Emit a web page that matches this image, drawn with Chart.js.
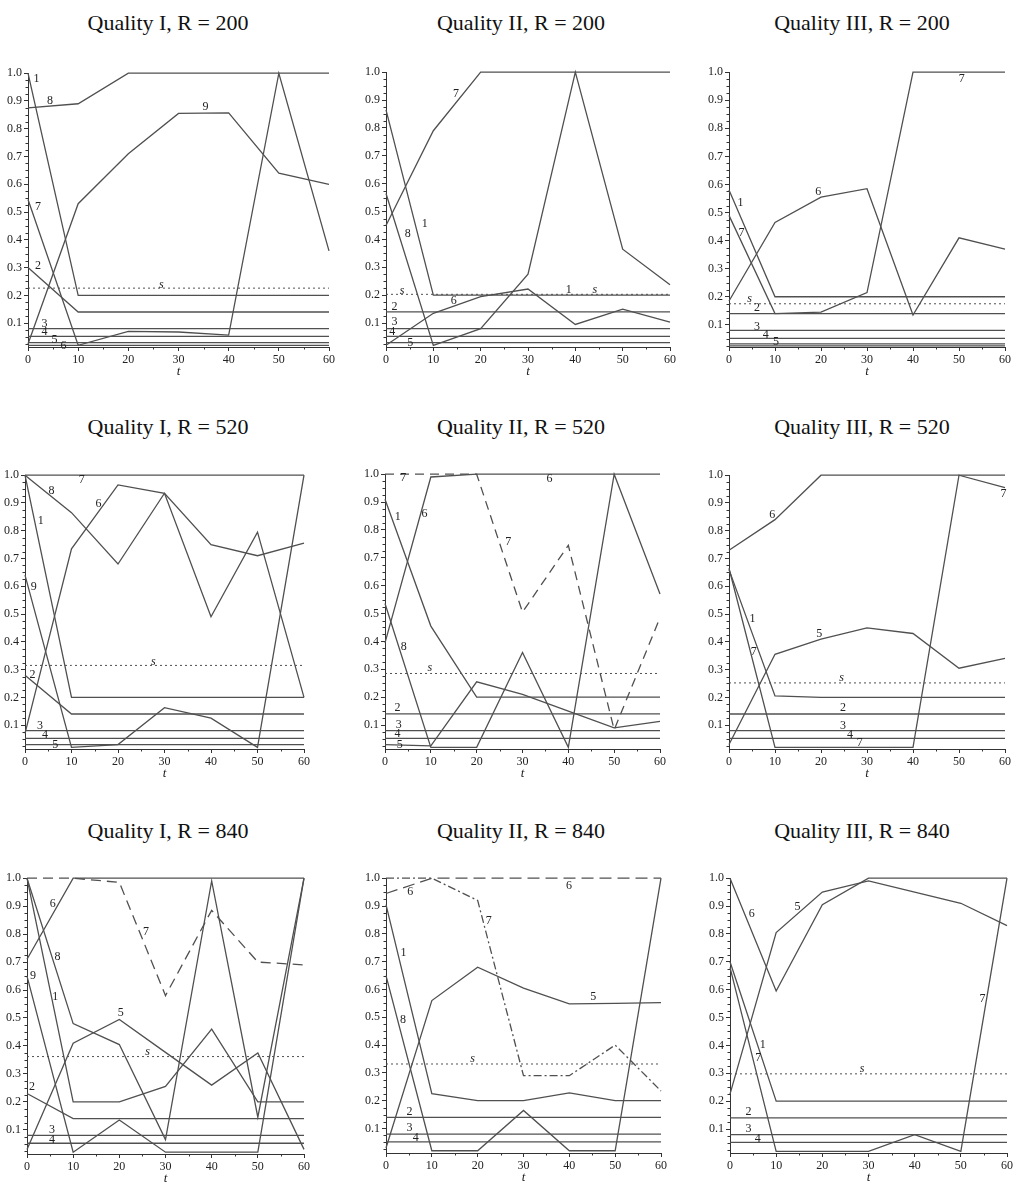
<!DOCTYPE html>
<html><head><meta charset="utf-8">
<script src="https://cdn.jsdelivr.net/npm/chart.js@4.4.1/dist/chart.umd.min.js"></script>
<style>
html,body{margin:0;padding:0;background:#fff;}
body{width:1024px;height:1187px;position:relative;overflow:hidden;font-family:"Liberation Serif","Times New Roman",serif;}
.ttl{position:absolute;font-size:22px;line-height:22px;white-space:nowrap;color:#111;transform:translateX(-50%);}
.pan{position:absolute;}
</style></head><body>
<script>
// ---------- DATA ----------
const T = [0, 10, 20, 30, 40, 50, 60];
const X_TICKS = [0, 10, 20, 30, 40, 50, 60];
const Y_TICKS = [0.1, 0.2, 0.3, 0.4, 0.5, 0.6, 0.7, 0.8, 0.9, 1.0];

// Quality I, R = 200
const I200_1 = [1.0, 0.2, 0.2, 0.2, 0.2, 0.2, 0.2];
const I200_2 = [0.30, 0.14, 0.14, 0.14, 0.14, 0.14, 0.14];
const I200_3 = [0.08, 0.08, 0.08, 0.08, 0.08, 0.08, 0.08];
const I200_4 = [0.052, 0.052, 0.052, 0.052, 0.052, 0.052, 0.052];
const I200_5 = [0.03, 0.03, 0.03, 0.03, 0.03, 0.03, 0.03];
const I200_6 = [0.02, 0.02, 0.02, 0.02, 0.02, 0.02, 0.02];
const I200_7 = [0.545, 0.02, 0.07, 0.068, 0.057, 1.0, 0.36];
const I200_8 = [0.875, 0.89, 1.0, 1.0, 1.0, 1.0, 1.0];
const I200_9 = [0.025, 0.53, 0.71, 0.855, 0.857, 0.64, 0.60];
const I200_s = [0.226, 0.226, 0.226, 0.226, 0.226, 0.226, 0.226];

// Quality II, R = 200
const II200_1 = [0.865, 0.2, 0.2, 0.2, 0.2, 0.2, 0.2];
const II200_2 = [0.14, 0.14, 0.14, 0.14, 0.14, 0.14, 0.14];
const II200_3 = [0.08, 0.08, 0.08, 0.08, 0.08, 0.08, 0.08];
const II200_4 = [0.052, 0.052, 0.052, 0.052, 0.052, 0.052, 0.052];
const II200_5 = [0.03, 0.03, 0.03, 0.03, 0.03, 0.03, 0.03];
const II200_6 = [0.02, 0.135, 0.195, 0.222, 0.095, 0.15, 0.103];
const II200_7 = [0.45, 0.79, 1.0, 1.0, 1.0, 1.0, 1.0];
const II200_8 = [0.565, 0.02, 0.08, 0.275, 1.0, 0.365, 0.237];
const II200_s = [0.203, 0.203, 0.203, 0.203, 0.203, 0.203, 0.203];

// Quality III, R = 200
const III200_1 = [0.58, 0.2, 0.2, 0.2, 0.2, 0.2, 0.2];
const III200_2 = [0.14, 0.14, 0.14, 0.14, 0.14, 0.14, 0.14];
const III200_3 = [0.08, 0.08, 0.08, 0.08, 0.08, 0.08, 0.08];
const III200_4 = [0.052, 0.052, 0.052, 0.052, 0.052, 0.052, 0.052];
const III200_5 = [0.032, 0.032, 0.032, 0.032, 0.032, 0.032, 0.032];
const III200_0 = [0.025, 0.025, 0.025, 0.025, 0.025, 0.025, 0.025];
const III200_6 = [0.185, 0.465, 0.555, 0.585, 0.135, 0.41, 0.37];
const III200_7 = [0.49, 0.14, 0.145, 0.215, 1.0, 1.0, 1.0];
const III200_s = [0.175, 0.175, 0.175, 0.175, 0.175, 0.175, 0.175];

// Quality I, R = 520
const I520_1 = [1.0, 0.2, 0.2, 0.2, 0.2, 0.2, 0.2];
const I520_2 = [0.28, 0.14, 0.14, 0.14, 0.14, 0.14, 0.14];
const I520_3 = [0.08, 0.08, 0.08, 0.08, 0.08, 0.08, 0.08];
const I520_4 = [0.052, 0.052, 0.052, 0.052, 0.052, 0.052, 0.052];
const I520_5 = [0.03, 0.03, 0.03, 0.03, 0.03, 0.03, 0.03];
const I520_6 = [0.07, 0.735, 0.965, 0.935, 0.49, 0.795, 0.2];
const I520_7 = [1.0, 1.0, 1.0, 1.0, 1.0, 1.0, 1.0];
const I520_8 = [1.0, 0.865, 0.68, 0.935, 0.75, 0.71, 0.755];
const I520_9 = [0.64, 0.02, 0.03, 0.163, 0.125, 0.02, 1.0];
const I520_s = [0.315, 0.315, 0.315, 0.315, 0.315, 0.315, 0.315];

// Quality II, R = 520
const II520_1 = [0.91, 0.455, 0.2, 0.2, 0.2, 0.2, 0.2];
const II520_2 = [0.14, 0.14, 0.14, 0.14, 0.14, 0.14, 0.14];
const II520_3 = [0.08, 0.08, 0.08, 0.08, 0.08, 0.08, 0.08];
const II520_4 = [0.052, 0.052, 0.052, 0.052, 0.052, 0.052, 0.052];
const II520_5 = [0.03, 0.025, 0.255, 0.21, 0.15, 0.09, 0.113];
const II520_6 = [0.395, 0.99, 1.0, 1.0, 1.0, 1.0, 1.0];
const II520_7 = [1.0, 1.0, 1.0, 0.505, 0.745, 0.083, 0.485];
const II520_8 = [0.536, 0.02, 0.02, 0.36, 0.02, 1.0, 0.57];
const II520_s = [0.285, 0.285, 0.285, 0.285, 0.285, 0.285, 0.285];

// Quality III, R = 520
const III520_1 = [0.66, 0.205, 0.2, 0.2, 0.2, 0.2, 0.2];
const III520_2 = [0.14, 0.14, 0.14, 0.14, 0.14, 0.14, 0.14];
const III520_3 = [0.08, 0.08, 0.08, 0.08, 0.08, 0.08, 0.08];
const III520_4 = [0.052, 0.052, 0.052, 0.052, 0.052, 0.052, 0.052];
const III520_5 = [0.03, 0.355, 0.41, 0.45, 0.43, 0.305, 0.34];
const III520_6 = [0.73, 0.84, 1.0, 1.0, 1.0, 1.0, 1.0];
const III520_7 = [0.665, 0.02, 0.02, 0.02, 0.02, 1.0, 0.955];
const III520_s = [0.252, 0.252, 0.252, 0.252, 0.252, 0.252, 0.252];

// Quality I, R = 840
const I840_1 = [1.0, 0.2, 0.2, 0.255, 0.46, 0.2, 0.2];
const I840_2 = [0.23, 0.14, 0.14, 0.14, 0.14, 0.14, 0.14];
const I840_3 = [0.08, 0.08, 0.08, 0.08, 0.08, 0.08, 0.08];
const I840_4 = [0.052, 0.052, 0.052, 0.052, 0.052, 0.052, 0.052];
const I840_5 = [0.03, 0.41, 0.495, 0.377, 0.26, 0.375, 0.03];
const I840_6 = [0.71, 1.0, 1.0, 1.0, 1.0, 1.0, 1.0];
const I840_7 = [1.0, 1.0, 0.985, 0.58, 0.885, 0.70, 0.69];
const I840_8 = [1.0, 0.48, 0.405, 0.065, 0.99, 0.145, 1.0];
const I840_9 = [0.65, 0.02, 0.135, 0.02, 0.02, 0.02, 1.0];
const I840_s = [0.362, 0.362, 0.362, 0.362, 0.362, 0.362, 0.362];

// Quality II, R = 840
const II840_1 = [0.905, 0.225, 0.2, 0.2, 0.228, 0.2, 0.2];
const II840_2 = [0.14, 0.14, 0.14, 0.14, 0.14, 0.14, 0.14];
const II840_3 = [0.08, 0.08, 0.08, 0.08, 0.08, 0.08, 0.08];
const II840_4 = [0.052, 0.052, 0.052, 0.052, 0.052, 0.052, 0.052];
const II840_5 = [0.03, 0.56, 0.68, 0.605, 0.548, 0.55, 0.553];
const II840_6 = [0.945, 1.0, 1.0, 1.0, 1.0, 1.0, 1.0];
const II840_7 = [1.0, 1.0, 0.92, 0.29, 0.29, 0.4, 0.235];
const II840_8 = [0.65, 0.02, 0.02, 0.165, 0.02, 0.02, 1.0];
const II840_s = [0.332, 0.332, 0.332, 0.332, 0.332, 0.332, 0.332];

// Quality III, R = 840
const III840_1 = [0.70, 0.2, 0.2, 0.2, 0.2, 0.2, 0.2];
const III840_2 = [0.14, 0.14, 0.14, 0.14, 0.14, 0.14, 0.14];
const III840_3 = [0.08, 0.08, 0.08, 0.08, 0.08, 0.08, 0.08];
const III840_4 = [0.052, 0.052, 0.052, 0.052, 0.052, 0.052, 0.052];
const III840_5 = [0.225, 0.805, 0.95, 0.99, 0.95, 0.91, 0.83];
const III840_6 = [1.0, 0.595, 0.905, 1.0, 1.0, 1.0, 1.0];
const III840_7 = [0.68, 0.02, 0.02, 0.02, 0.08, 0.02, 1.0];
const III840_s = [0.298, 0.298, 0.298, 0.298, 0.298, 0.298, 0.298];

// ---------- CURVE LABELS (data coordinates: t, value, text) ----------
const LBL_I200 = [[1.7,0.978,'1'],[4.4,0.9,'8'],[35.4,0.879,'9'],[2.0,0.52,'7'],[2.0,0.305,'2'],[26.6,0.239,'s'],[3.3,0.097,'3'],[3.3,0.067,'4'],[5.3,0.040,'5'],[7.1,0.017,'6']];
const LBL_II200 = [[14.8,0.921,'7'],[8.2,0.455,'1'],[4.6,0.419,'8'],[3.4,0.217,'s'],[38.6,0.219,'1'],[44.1,0.219,'s'],[14.3,0.181,'6'],[1.8,0.157,'2'],[1.8,0.104,'3'],[1.3,0.068,'4'],[5.1,0.029,'5']];
const LBL_III200 = [[50.6,0.978,'7'],[19.4,0.575,'6'],[2.5,0.534,'1'],[2.7,0.427,'7'],[4.5,0.191,'s'],[6.1,0.159,'2'],[6.1,0.094,'3'],[8.0,0.065,'4'],[10.2,0.038,'5']];
const LBL_I520 = [[12.2,0.982,'7'],[5.7,0.945,'8'],[15.8,0.897,'6'],[3.4,0.835,'1'],[1.9,0.597,'9'],[27.6,0.328,'s'],[1.6,0.28,'2'],[3.2,0.098,'3'],[4.3,0.064,'4'],[6.5,0.03,'5']];
const LBL_II520 = [[4.0,0.986,'7'],[35.9,0.982,'6'],[2.8,0.848,'1'],[8.6,0.857,'6'],[26.9,0.756,'7'],[4.1,0.382,'8'],[9.8,0.305,'s'],[2.7,0.162,'2'],[3.0,0.1,'3'],[2.7,0.067,'4'],[3.2,0.029,'5']];
const LBL_III520 = [[9.4,0.859,'6'],[59.7,0.933,'7'],[5.1,0.483,'1'],[5.4,0.364,'7'],[19.6,0.43,'5'],[24.5,0.272,'s'],[24.8,0.161,'2'],[24.8,0.099,'3'],[26.3,0.066,'4'],[28.4,0.036,'7']];
const LBL_I840 = [[5.6,0.909,'6'],[25.8,0.807,'7'],[6.6,0.719,'8'],[1.3,0.65,'9'],[6.1,0.576,'1'],[20.3,0.52,'5'],[26.1,0.378,'s'],[1.1,0.254,'2'],[5.4,0.1,'3'],[5.4,0.064,'4']];
const LBL_II840 = [[5.3,0.951,'6'],[39.9,0.973,'6'],[22.4,0.847,'7'],[3.8,0.731,'1'],[3.7,0.489,'8'],[45.2,0.573,'5'],[18.9,0.35,'s'],[5.1,0.161,'2'],[5.1,0.101,'3'],[6.5,0.068,'4']];
const LBL_III840 = [[4.7,0.871,'6'],[14.6,0.899,'5'],[7.1,0.401,'1'],[6.1,0.356,'7'],[54.7,0.568,'7'],[28.6,0.316,'s'],[4.0,0.161,'2'],[4.0,0.101,'3'],[6.0,0.066,'4']];

// ---------- PANELS (built from the arrays above) ----------
const PANELS = [
  {title:'Quality I, R = 200', series:[I200_1,I200_2,I200_3,I200_4,I200_5,I200_6,I200_7,I200_8,I200_9], s:I200_s, labels:LBL_I200, dash:{}},
  {title:'Quality II, R = 200', series:[II200_1,II200_2,II200_3,II200_4,II200_5,II200_6,II200_7,II200_8], s:II200_s, labels:LBL_II200, dash:{}},
  {title:'Quality III, R = 200', series:[III200_1,III200_2,III200_3,III200_4,III200_5,III200_0,III200_6,III200_7], s:III200_s, labels:LBL_III200, dash:{}},
  {title:'Quality I, R = 520', series:[I520_1,I520_2,I520_3,I520_4,I520_5,I520_6,I520_7,I520_8,I520_9], s:I520_s, labels:LBL_I520, dash:{}},
  {title:'Quality II, R = 520', series:[II520_1,II520_2,II520_3,II520_4,II520_5,II520_6,II520_7,II520_8], s:II520_s, labels:LBL_II520, dash:{6:[9,6]}},
  {title:'Quality III, R = 520', series:[III520_1,III520_2,III520_3,III520_4,III520_5,III520_6,III520_7], s:III520_s, labels:LBL_III520, dash:{}},
  {title:'Quality I, R = 840', series:[I840_1,I840_2,I840_3,I840_4,I840_5,I840_6,I840_7,I840_8,I840_9], s:I840_s, labels:LBL_I840, dash:{6:[10,6]}},
  {title:'Quality II, R = 840', series:[II840_1,II840_2,II840_3,II840_4,II840_5,II840_6,II840_7,II840_8], s:II840_s, labels:LBL_II840, dash:{5:[12,6],6:[8,3,2,3]}},
  {title:'Quality III, R = 840', series:[III840_1,III840_2,III840_3,III840_4,III840_5,III840_6,III840_7], s:III840_s, labels:LBL_III840, dash:{}}
];

// ---------- LAYOUT (page pixels of each plot area: left, right, top, bottom, y-min) ----------
const GEOM = [
  [28, 329, 72, 347, 0.014],
  [386, 670, 71, 347, 0.014],
  [729, 1005, 71, 347, 0.021],
  [25, 304, 474, 749, 0.014],
  [385, 660, 473, 749, 0.014],
  [729, 1005, 474, 749, 0.014],
  [27, 304, 877, 1154, 0.0135],
  [386, 661, 877, 1153, 0.012],
  [730, 1007, 877, 1153, 0.014]
];
const TITLE_X = [168, 521, 862];
const TITLE_TOP = [12, 416, 820];
const YW = 32, PT = 8, PR = 12, XH = 32;
const LINE = '#505050', AXIS = '#333', TXT = '#222';

const labelPlugin = {
  id: 'curveLabels',
  afterDatasetsDraw(chart, args, opts) {
    const ctx = chart.ctx, xs = chart.scales.x, ys = chart.scales.y;
    ctx.save();
    ctx.fillStyle = TXT;
    ctx.textAlign = 'center';
    ctx.textBaseline = 'middle';
    (opts.items || []).forEach(([t, v, txt]) => {
      ctx.font = (txt === 's' ? 'italic ' : '') + '12px "Liberation Serif", serif';
      ctx.fillText(txt, xs.getPixelForValue(t), ys.getPixelForValue(v));
    });
    ctx.restore();
  }
};
const minorTicks = {
  id: 'minorTicks',
  afterDraw(chart) {
    const ctx = chart.ctx, xs = chart.scales.x, ys = chart.scales.y, a = chart.chartArea;
    ctx.save();
    ctx.strokeStyle = AXIS; ctx.lineWidth = 1;
    ctx.beginPath();
    for (let k = 1; k < 40; k++) {
      if (k % 4 === 0) continue;
      const v = k * 0.025;
      if (v < ys.min) continue;
      const py = Math.round(ys.getPixelForValue(v)) + 0.5;
      ctx.moveTo(a.left - 2.5, py); ctx.lineTo(a.left, py);
    }
    for (let v = 5; v < 60; v += 10) {
      const px = Math.round(xs.getPixelForValue(v)) + 0.5;
      ctx.moveTo(px, a.bottom); ctx.lineTo(px, a.bottom + 2.5);
    }
    ctx.stroke();
    ctx.restore();
  }
};

PANELS.forEach((p, i) => {
  const [L, R, Tp, B, ymin] = GEOM[i];
  const col = i % 3, row = Math.floor(i / 3);
  const tt = document.createElement('div');
  tt.className = 'ttl';
  tt.style.left = TITLE_X[col] + 'px';
  tt.style.top = TITLE_TOP[row] + 'px';
  tt.textContent = p.title;
  document.body.appendChild(tt);

  const box = document.createElement('div');
  box.className = 'pan';
  box.style.left = (L - YW) + 'px';
  box.style.top = (Tp - PT) + 'px';
  box.style.width = (R - L + YW + PR) + 'px';
  box.style.height = (B - Tp + PT + XH) + 'px';
  const cv = document.createElement('canvas');
  box.appendChild(cv);
  document.body.appendChild(box);

  const datasets = p.series.map((vals, k) => ({
    data: T.map((t, j) => ({x: t, y: vals[j]})),
    borderColor: LINE, borderWidth: 1.3, borderDash: p.dash[k] || [],
    pointRadius: 0, tension: 0, fill: false, clip: 4
  }));
  datasets.push({
    data: T.map((t, j) => ({x: t, y: p.s[j]})),
    borderColor: LINE, borderWidth: 1, borderDash: [2, 3],
    pointRadius: 0, tension: 0, fill: false, clip: 4
  });

  new Chart(cv, {
    type: 'line',
    data: {datasets},
    options: {
      responsive: true, maintainAspectRatio: false, animation: false,
      layout: {padding: {top: PT, right: PR, left: 0, bottom: 0}},
      plugins: {legend: {display: false}, tooltip: {enabled: false}, curveLabels: {items: p.labels}},
      scales: {
        x: {
          type: 'linear', min: 0, max: 60,
          afterBuildTicks: s => { s.ticks = X_TICKS.map(v => ({value: v})); },
          afterFit: s => { s.height = XH; },
          grid: {drawOnChartArea: false, drawTicks: true, tickLength: 4, color: AXIS},
          border: {display: true, color: AXIS, width: 1},
          ticks: {autoSkip: false, maxRotation: 0, padding: 2, color: TXT, font: {family: '"Liberation Serif", serif', size: 12}},
          title: {display: true, text: 't', color: TXT, padding: {top: 0, bottom: 0}, font: {family: '"Liberation Serif", serif', size: 13, style: 'italic'}}
        },
        y: {
          type: 'linear', min: ymin, max: 1.0,
          afterBuildTicks: s => { s.ticks = Y_TICKS.map(v => ({value: v})); },
          afterFit: s => { s.width = YW; },
          grid: {drawOnChartArea: false, drawTicks: true, tickLength: 4, color: AXIS},
          border: {display: true, color: AXIS, width: 1},
          ticks: {autoSkip: false, padding: 2, color: TXT, callback: v => Number(v).toFixed(1), font: {family: '"Liberation Serif", serif', size: 12}}
        }
      }
    },
    plugins: [labelPlugin, minorTicks]
  });
});
</script>
</body></html>
